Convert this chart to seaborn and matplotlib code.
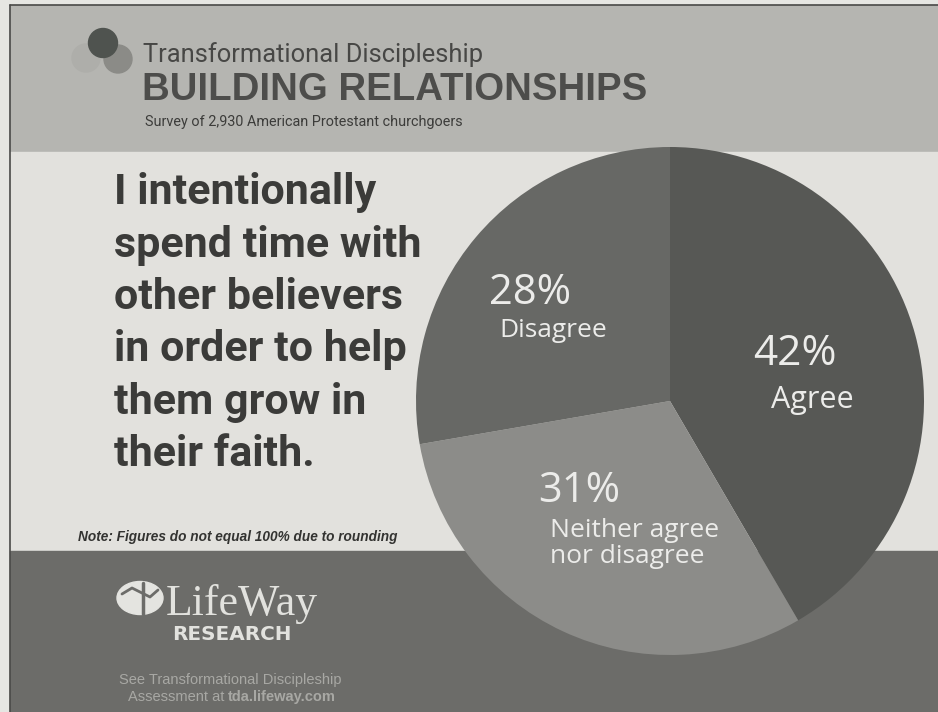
import matplotlib

matplotlib.use("Agg")

import matplotlib.pyplot as plt
import seaborn as sns
from matplotlib.patches import Circle, Ellipse, Rectangle

# survey answers, drawn clockwise from 12 o'clock
answers = ["Agree", "Neither agree\nnor disagree", "Disagree"]
shares = [42, 31, 28]
pct_labels = ["42%", "31%", "28%"]

question = [
    "I intentionally",
    "spend time with",
    "other believers",
    "in order to help",
    "them grow in",
    "their faith.",
]

sns.set_theme(style="white")
plt.rcParams["font.family"] = ["Open Sans", "DejaVu Sans"]

W, H = 938, 712
fig = plt.figure(figsize=(W / 100, H / 100), dpi=100)

# background panels, pixel coordinates
bg = fig.add_axes([0, 0, 1, 1])
bg.set_xlim(0, W)
bg.set_ylim(H, 0)
bg.axis("off")
bg.add_patch(Rectangle((0, 0), W, H, color="#e6e6e2", zorder=0))
bg.add_patch(Rectangle((10, 5), W - 10, 147, color="#b5b5b1", zorder=1))
bg.add_patch(Rectangle((10, 152), W - 10, 399, color="#e2e1dd", zorder=1))
bg.add_patch(Rectangle((10, 551), W - 10, H - 551, color="#6c6c69", zorder=1))
bg.plot([10, 10], [5, H], color="#4a4a48", lw=1.2, zorder=2)
bg.plot([10, W], [5, 5], color="#4a4a48", lw=1.2, zorder=2)

# header logo dots
bg.add_patch(Circle((86, 58), 14, color="#aeaeaa", zorder=2))
bg.add_patch(Circle((118, 59), 14, color="#8b8b87", zorder=3))
bg.add_patch(Circle((103, 43), 14.5, color="#4f534f", zorder=4))

bg.text(143, 62, "Transformational Discipleship", family="Roboto", fontsize=18.4,
        color="#474745", va="baseline", zorder=5)
bg.text(142, 100, "BUILDING RELATIONSHIPS", family="Liberation Sans", fontweight="bold",
        fontsize=27.6, color="#4d4d4b", va="baseline", zorder=5)
bg.text(145, 126, "Survey of 2,930 American Protestant churchgoers", family="Roboto",
        fontsize=10.4, color="#3c3c3a", va="baseline", zorder=5)

for i, line in enumerate(question):
    bg.text(114, 204 + i * 52.5, line, family="Roboto", fontweight="bold", fontsize=31,
            color="#3b3b39", va="baseline", zorder=5)

bg.text(78, 541, "Note: Figures do not equal 100% due to rounding", family="Liberation Sans",
        fontweight="bold", style="italic", fontsize=9.8, color="#333331",
        va="baseline", zorder=5)

# LifeWay mark
bg.add_patch(Ellipse((140, 598), 46, 33, color="#e4e4e0", zorder=5))
bg.plot([143, 143], [583, 614], color="#6c6c69", lw=2.5, zorder=6)
bg.plot([122, 132, 150, 158], [594, 588, 597, 590], color="#6c6c69", lw=2, zorder=6)
bg.text(166, 615, "LifeWay", family="Liberation Serif", fontsize=31.5, color="#e2e2de",
        va="baseline", zorder=5)
bg.text(172, 640, "RESEARCH", family="DejaVu Sans", fontweight="bold", fontsize=14.4,
        color="#e2e2de", va="baseline", zorder=5)
bg.text(230, 684, "See Transformational Discipleship", family="Liberation Sans",
        fontsize=10.5, color="#a8a8a4", ha="center", va="baseline", zorder=5)
bg.text(224, 701, "Assessment at", family="Liberation Sans", fontsize=10.5,
        color="#a8a8a4", ha="right", va="baseline", zorder=5)
bg.text(228, 701, "tda.lifeway.com", family="Liberation Sans", fontweight="bold",
        fontsize=10.5, color="#a8a8a4", ha="left", va="baseline", zorder=5)

# pie: centre (670, 401) px, radius 254 px
cx, cy, r = 670, 401, 254
ax = fig.add_axes([(cx - r) / W, 1 - (cy + r) / H, 2 * r / W, 2 * r / H])
colors = sns.color_palette(["#575855", "#8c8c89", "#676865"])
ax.pie(shares, colors=colors, startangle=90, counterclock=False,
       wedgeprops={"linewidth": 0})
ax.set_xlim(-1, 1)
ax.set_ylim(-1, 1)
ax.axis("off")

txt = "#ececea"
# Agree
ax.text(0.492, 0.142, pct_labels[0], fontsize=30.5, color=txt, ha="center", va="baseline")
ax.text(0.56, -0.028, answers[0], fontsize=22, color=txt, ha="center", va="baseline")
# Neither
ax.text(-0.52, -0.398, pct_labels[1], fontsize=30, color=txt, ha="left", va="baseline")
ax.text(-0.472, -0.535, answers[1].split("\n")[0], fontsize=19, color=txt,
        ha="left", va="baseline")
ax.text(-0.472, -0.638, answers[1].split("\n")[1], fontsize=19, color=txt,
        ha="left", va="baseline")
# Disagree
ax.text(-0.551, 0.382, pct_labels[2], fontsize=30, color=txt, ha="center", va="baseline")
ax.text(-0.461, 0.252, answers[2], fontsize=19, color=txt, ha="center", va="baseline")

fig.savefig("out.png", dpi=100)
